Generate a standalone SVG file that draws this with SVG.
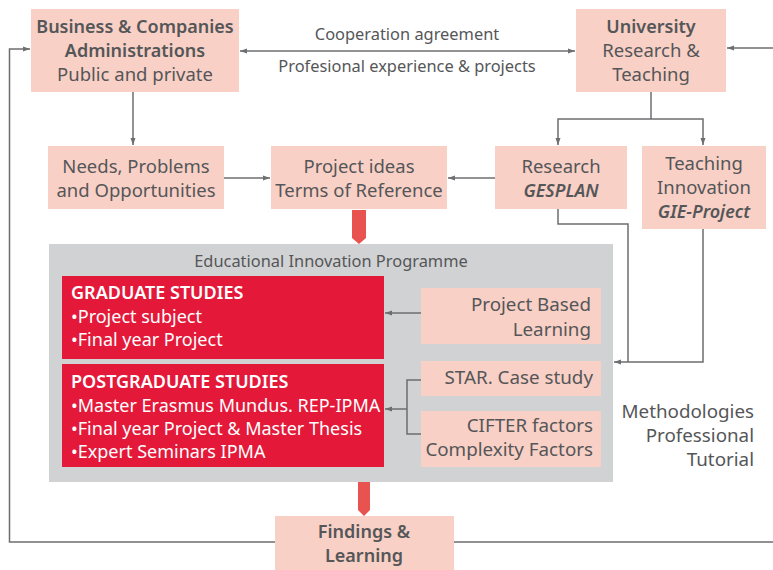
<svg xmlns="http://www.w3.org/2000/svg" width="773" height="570" viewBox="0 0 773 570">
  <defs>
    <marker id="arr" viewBox="0 0 8 8" refX="7" refY="4" markerWidth="8" markerHeight="8" markerUnits="userSpaceOnUse" orient="auto-start-reverse">
      <path d="M0,1.5 L7,4 L0,6.5 Z" fill="#6d6e70"/>
    </marker>
    <style>
      text { font-family: "Noto Sans", "Open Sans", sans-serif; fill: #555658; }
      .box { fill: #f8d0c6; }
      .red { fill: #e4193a; }
      .panel { fill: #d1d2d4; }
      .c { text-anchor: middle; font-size: 18.5px; }
      .r { text-anchor: end; font-size: 18.8px; }
      .b { font-weight: 600; font-size: 18px; }
      .bi { font-weight: 600; font-style: italic; font-size: 18px; }
      .w { fill: #ffffff; font-size: 18px; }
      .lbl { text-anchor: middle; font-size: 16.4px; }
      .ln { fill: none; stroke: #6d6e70; stroke-width: 1.5; }
      .fat { fill: #e8524f; }
    </style>
  </defs>

  <!-- programme panel -->
  <g id="programme">
    <rect class="panel" x="49" y="244" width="564" height="238"/>
    <text class="lbl" x="331" y="267">Educational Innovation Programme</text>
  </g>

  <!-- connectors -->
  <g id="connectors">
    <!-- feedback loop -->
    <polyline class="ln" points="773,542 9.5,542 9.5,49 30,49" marker-end="url(#arr)"/>
    <line class="ln" x1="773" y1="48" x2="727" y2="48" marker-end="url(#arr)"/>
    <line class="ln" x1="240" y1="51" x2="575" y2="51" marker-start="url(#arr)" marker-end="url(#arr)"/>
    <line class="ln" x1="133" y1="92" x2="133" y2="145" marker-end="url(#arr)"/>
    <line class="ln" x1="224" y1="178" x2="270" y2="178" marker-end="url(#arr)"/>
    <line class="ln" x1="495" y1="178" x2="448" y2="178" marker-end="url(#arr)"/>
    <line class="ln" x1="651" y1="92" x2="651" y2="119"/>
    <polyline class="ln" points="558,145 558,119 703,119 703,145" marker-start="url(#arr)" marker-end="url(#arr)"/>
    <polyline class="ln" points="558,209 558,224 628,224 628,362"/>
    <polyline class="ln" points="703,229 703,362 614,362" marker-end="url(#arr)"/>
    <line class="ln" x1="421" y1="313" x2="385" y2="313" marker-end="url(#arr)"/>
    <polyline class="ln" points="421,380 407,380 407,434 421,434"/>
    <line class="ln" x1="407" y1="409" x2="385" y2="409" marker-end="url(#arr)"/>
    <!-- block arrows -->
    <path class="fat" d="M352,210 H366 V238 L359,244 L352,238 Z"/>
    <path class="fat" d="M358,482 H370 V510 L364,516 L358,510 Z"/>
  </g>

  <g id="business">
    <rect class="box" x="31" y="9" width="208" height="83"/>
    <text class="c b" x="135" y="33">Business &amp; Companies</text>
    <text class="c b" x="135" y="57">Administrations</text>
    <text class="c" x="135" y="81">Public and private</text>
  </g>

  <g id="cooperation">
    <text class="lbl" x="407" y="40">Cooperation agreement</text>
    <text class="lbl" x="407" y="72">Profesional experience &amp; projects</text>
  </g>

  <g id="university">
    <rect class="box" x="576" y="9" width="150" height="83"/>
    <text class="c b" x="651" y="33">University</text>
    <text class="c" x="651" y="57">Research &amp;</text>
    <text class="c" x="651" y="81">Teaching</text>
  </g>

  <g id="needs">
    <rect class="box" x="48" y="146" width="176" height="63"/>
    <text class="c" x="136" y="173">Needs, Problems</text>
    <text class="c" x="136" y="197">and Opportunities</text>
  </g>

  <g id="ideas">
    <rect class="box" x="271" y="146" width="176" height="63"/>
    <text class="c" x="359" y="173">Project ideas</text>
    <text class="c" x="359" y="197">Terms of Reference</text>
  </g>

  <g id="research">
    <rect class="box" x="495" y="146" width="132" height="63"/>
    <text class="c" x="561" y="173">Research</text>
    <text class="c bi" x="561" y="197">GESPLAN</text>
  </g>

  <g id="teaching">
    <rect class="box" x="642" y="146" width="124" height="83"/>
    <text class="c" x="704" y="170">Teaching</text>
    <text class="c" x="704" y="194">Innovation</text>
    <text class="c bi" x="704" y="218">GIE-Project</text>
  </g>

  <g id="graduate">
    <rect class="red" x="62" y="276" width="322" height="83"/>
    <text class="w b" x="71" y="299">GRADUATE STUDIES</text>
    <text class="w" x="71" y="323">•Project subject</text>
    <text class="w" x="71" y="346">•Final year Project</text>
  </g>

  <g id="postgraduate">
    <rect class="red" x="62" y="364" width="322" height="103"/>
    <text class="w b" x="71" y="388">POSTGRADUATE STUDIES</text>
    <text class="w" x="71" y="412">•Master Erasmus Mundus. REP-IPMA</text>
    <text class="w" x="71" y="435">•Final year Project &amp; Master Thesis</text>
    <text class="w" x="71" y="458">•Expert Seminars IPMA</text>
  </g>

  <g id="pbl">
    <rect class="box" x="421" y="288" width="180" height="56"/>
    <text class="r" x="591" y="311">Project Based</text>
    <text class="r" x="591" y="336">Learning</text>
  </g>

  <g id="star">
    <rect class="box" x="421" y="361" width="180" height="35"/>
    <text class="r" x="593" y="384">STAR. Case study</text>
  </g>

  <g id="cifter">
    <rect class="box" x="421" y="411" width="180" height="56"/>
    <text class="r" x="593" y="432">CIFTER factors</text>
    <text class="r" x="593" y="456">Complexity Factors</text>
  </g>

  <g id="methodologies">
    <text class="r" x="754" y="418">Methodologies</text>
    <text class="r" x="754" y="442">Professional</text>
    <text class="r" x="754" y="466">Tutorial</text>
  </g>

  <g id="findings">
    <rect class="box" x="275" y="516" width="179" height="54"/>
    <text class="c b" x="364" y="538">Findings &amp;</text>
    <text class="c b" x="364" y="562">Learning</text>
  </g>
</svg>
